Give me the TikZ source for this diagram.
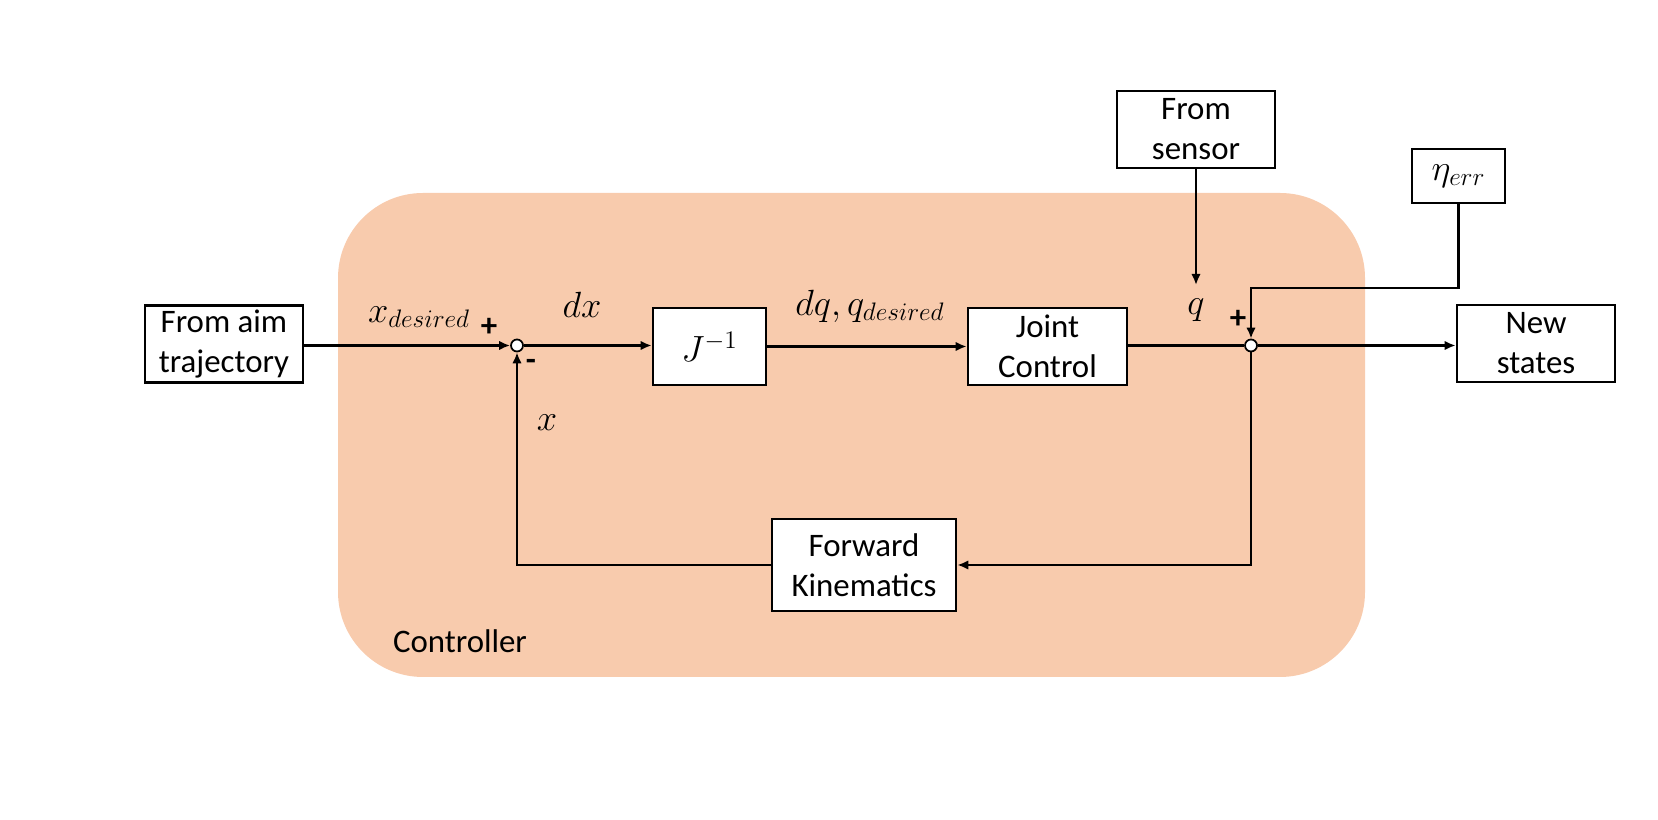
\documentclass[tikz,border=0pt]{standalone}
\usepackage{amsmath, amssymb}
\usepackage{fontspec}
\setmainfont{Carlito}
\usepackage{tikz}
\usetikzlibrary{arrows.meta}
\definecolor{peach}{HTML}{F8CBAD}

\begin{document}
\begin{tikzpicture}[>={Latex[length=2.2mm, width=1.9mm]}, line width=1.3pt,
    font=\fontsize{18.7}{22.7}\selectfont,
    blockbox/.style={draw, fill=white, align=center, inner sep=0pt, line width=1.5pt},
    mathlabel/.style={font=\fontsize{21.5}{26}\selectfont},
    sumnode/.style={draw, circle, fill=white, line width=1pt, inner sep=0pt, minimum size=0.24cm}]

        \useasboundingbox (0,0) rectangle (33.16,16.4);

        % Controller area
        \fill[peach, rounded corners=1.7cm] (6.76,2.86) rectangle (27.30,12.54);
        \node at (9.2,3.58) (ctrl) {Controller};

        % Blocks
        \node at (4.48,9.52) [blockbox, minimum width=3.16cm, minimum height=1.54cm] (aim) {From aim\\trajectory};
        \node at (14.19,9.47) [blockbox, mathlabel, minimum width=2.26cm, minimum height=1.54cm] (Jinv) {$J^{-1}$};
        \node at (20.95,9.47) [blockbox, minimum width=3.18cm, minimum height=1.54cm] (joint) {Joint\\Control};
        \node at (30.72,9.53) [blockbox, minimum width=3.16cm, minimum height=1.54cm] (new) {New\\states};
        \node at (23.92,13.81) [blockbox, minimum width=3.16cm, minimum height=1.54cm] (sensor) {From\\sensor};
        \node at (29.17,12.88) [blockbox, mathlabel, minimum width=1.86cm, minimum height=1.08cm] (eta) {$\eta_{err}$};
        \node at (17.28,5.10) [blockbox, minimum width=3.68cm, minimum height=1.84cm] (fk) {Forward\\Kinematics};

        % Sum points
        \node at (10.34,9.49) [sumnode] (S1) {};
        \node at (25.02,9.49) [sumnode] (S2) {};
        \coordinate (qend) at (23.92,10.70);
        \coordinate (etacorner) at (29.17,10.64);

        % Arrows
        \draw[->] (aim.east |- S1) -- (S1.west);
        \draw[->] (S1.east) -- (Jinv.west |- S1);
        \draw[->] (Jinv.east) -- (joint.west);
        \draw (joint.east |- S2) -- (S2.west);
        \draw[->] (S2.east) -- (new.west |- S2);
        \draw[->] (sensor.south) -- (qend);
        \draw[->] (eta.south) -- (etacorner) -| (S2.north);
        \draw[->] (S2.south) |- (fk.east);
        \draw[->] (fk.west) -| (S1.south);

        % Labels
        \node at (8.38,10.06) [mathlabel] (lxd) {$x_{desired}$};
        \node at (9.78,9.86) (lp1) {\textbf{+}};
        \node at (10.62,9.10) (lm1) {\textbf{-}};
        \node at (10.94,7.94) [mathlabel] (lx) {$x$};
        \node at (11.64,10.30) [mathlabel] (ldx) {$dx$};
        \node at (17.40,10.28) [mathlabel] (ldq) {$dq, q_{desired}$};
        \node at (23.92,10.20) [mathlabel] (lq) {$q$};
        \node at (24.76,10.02) (lp2) {\textbf{+}};

\end{tikzpicture}
\end{document}
